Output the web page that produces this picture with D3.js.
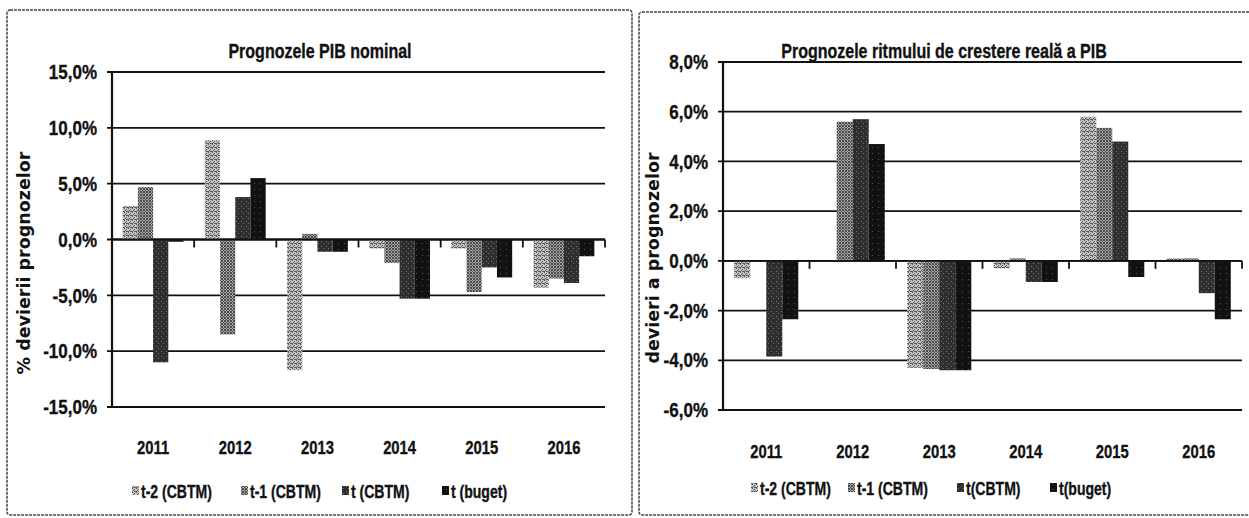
<!DOCTYPE html>
<html>
<head>
<meta charset="utf-8">
<script src="https://cdn.jsdelivr.net/npm/d3@7/dist/d3.min.js"></script>
<style>
  body { margin: 0; background: #fff; }
  svg { display: block; }
  .num { font-family: "Liberation Sans", Arial, sans-serif; font-weight: bold; fill: #111; stroke: #111; stroke-width: 0.35px; }
  .ytitle { font-family: "DejaVu Sans", Verdana, sans-serif; font-weight: bold; fill: #111; }
</style>
</head>
<body>
<svg id="chart" width="1249" height="518"></svg>
<script>
// categories and series
var years = ["2011", "2012", "2013", "2014", "2015", "2016"]
var seriesLeft = ["t-2 (CBTM)", "t-1 (CBTM)", "t (CBTM)", "t (buget)"]
var seriesRight = ["t-2 (CBTM)", "t-1 (CBTM)", "t(CBTM)", "t(buget)"]

// Prognozele PIB nominal (% deviation)
var nomT2 = [3.0, 8.9, -11.7, -0.8, -0.8, -4.3]
var nomT1 = [4.7, -8.5, 0.5, -2.1, -4.7, -3.5]
var nomTC = [-11.0, 3.8, -1.1, -5.3, -2.5, -3.9]
var nomTB = [-0.2, 5.5, -1.1, -5.3, -3.4, -1.5]
var nomTicks = [-15, -10, -5, 0, 5, 10, 15]

// Prognozele ritmului de crestere reala a PIB
var realT2 = [-0.7, 0.0, -4.3, -0.3, 5.8, 0.1]
var realT1 = [0.0, 5.6, -4.35, 0.1, 5.35, 0.1]
var realTC = [-3.85, 5.7, -4.4, -0.85, 4.8, -1.3]
var realTB = [-2.35, 4.7, -4.4, -0.85, -0.65, -2.35]
var realTicks = [-6, -4, -2, 0, 2, 4, 6, 8]

var svg = d3.select("#chart")

// halftone-like fills for the four series
var defs = svg.append("defs")
function makePattern(id, size, bg, dots, dotColor) {
	var p = defs.append("pattern")
		.attr("id", id)
		.attr("patternUnits", "userSpaceOnUse")
		.attr("width", size)
		.attr("height", size)
	p.append("rect").attr("width", size).attr("height", size).attr("fill", bg)
	dots.forEach(function (d) {
		p.append("rect").attr("x", d[0]).attr("y", d[1]).attr("width", 1).attr("height", 1).attr("fill", dotColor)
	})
}
makePattern("p0", 4, "#c6c6c6", [[0, 0], [2, 1], [1, 2], [3, 3], [2, 3], [0, 3]], "#555")
makePattern("p1", 3, "#a8a8a8", [[0, 0], [2, 0], [1, 1], [0, 2], [2, 2]], "#4a4a4a")
makePattern("p2", 5, "#2e2e2e", [[1, 1], [3, 3]], "#777")
makePattern("p3", 6, "#121212", [[2, 3]], "#555")
var fills = ["url(#p0)", "url(#p1)", "url(#p2)", "url(#p3)"]

var fmt = function (d) { return d.toFixed(1).replace(".", ",") + "%" }

// horizontal squeeze imitates the condensed font of the original
function squeezed(x, y, sx) {
	return "translate(" + x + "," + y + ") scale(" + sx + ",1)"
}

function drawChart(cfg) {
	var g = svg.append("g")

	// chart frame
	g.append("rect")
		.attr("x", cfg.frame[0]).attr("y", cfg.frame[1])
		.attr("width", cfg.frame[2]).attr("height", cfg.frame[3])
		.attr("rx", 3)
		.attr("fill", "none")
		.attr("stroke", "#444")
		.attr("stroke-width", 1.5)
		.attr("stroke-dasharray", "3,1")

	var x0 = d3.scaleBand().domain(years).range(cfg.xRange)
	var x1 = d3.scaleBand().domain(cfg.series).range([0, x0.bandwidth()]).paddingOuter(0.7)
	var y = d3.scaleLinear().domain(cfg.yDomain).range(cfg.yRange)

	// gridlines with small outside ticks
	g.selectAll(".grid")
		.data(cfg.ticks)
		.enter()
		.append("line")
		.attr("x1", cfg.xRange[0] - 5)
		.attr("x2", cfg.xRange[1])
		.attr("y1", d => y(d))
		.attr("y2", d => y(d))
		.attr("stroke", "#111")
		.attr("stroke-width", 1.8)

	g.selectAll(".ylab")
		.data(cfg.ticks)
		.enter()
		.append("text")
		.attr("class", "num")
		.attr("transform", d => squeezed(cfg.xRange[0] - 15, y(d), 0.85))
		.attr("dy", "0.36em")
		.attr("text-anchor", "end")
		.style("font-size", "20px")
		.text(fmt)

	// bars
	var data = []
	years.forEach(function (yr, i) {
		cfg.values.forEach(function (vals, s) {
			data.push({ year: yr, s: s, v: vals[i] })
		})
	})
	g.selectAll(".bar")
		.data(data)
		.enter()
		.append("rect")
		.attr("x", d => x0(d.year) + x1(cfg.series[d.s]))
		.attr("width", x1.bandwidth())
		.attr("y", d => y(Math.max(0, d.v)))
		.attr("height", d => Math.abs(y(d.v) - y(0)))
		.attr("fill", d => fills[d.s])

	// category axis at zero, ticks between groups
	var bounds = years.map(d => x0(d)).concat([cfg.xRange[1]])
	g.append("line")
		.attr("x1", cfg.xRange[0]).attr("x2", cfg.xRange[1])
		.attr("y1", y(0)).attr("y2", y(0))
		.attr("stroke", "#111").attr("stroke-width", 1.8)
	g.selectAll(".xtick")
		.data(bounds)
		.enter()
		.append("line")
		.attr("x1", d => d).attr("x2", d => d)
		.attr("y1", y(0)).attr("y2", y(0) + 8)
		.attr("stroke", "#111").attr("stroke-width", 1.8)

	// value axis line
	g.append("line")
		.attr("x1", cfg.xRange[0]).attr("x2", cfg.xRange[0])
		.attr("y1", y(cfg.yDomain[1])).attr("y2", y(cfg.yDomain[0]))
		.attr("stroke", "#111").attr("stroke-width", 2.2)

	g.selectAll(".xlab")
		.data(years)
		.enter()
		.append("text")
		.attr("class", "num")
		.attr("transform", d => squeezed(x0(d) + x0.bandwidth() / 2, cfg.xLabelY, 0.78))
		.attr("text-anchor", "middle")
		.style("font-size", "19px")
		.text(d => d)

	// titles
	g.append("text")
		.attr("class", "num")
		.attr("transform", squeezed(cfg.titleX, 58, 0.8))
		.attr("text-anchor", "middle")
		.style("font-size", "20px")
		.text(cfg.title)

	g.append("text")
		.attr("class", "ytitle")
		.attr("transform", "translate(" + cfg.yTitle[0] + "," + cfg.yTitle[1] + ") rotate(-90)")
		.attr("text-anchor", "middle")
		.attr("dy", "0.35em")
		.style("font-size", "17.5px")
		.text(cfg.yTitleText)

	// legend
	var legend = g.append("g")
	legend.selectAll("rect")
		.data(cfg.series)
		.enter()
		.append("rect")
		.attr("x", (d, i) => cfg.legendX[i])
		.attr("y", cfg.legendY - 12)
		.attr("width", 7)
		.attr("height", 9)
		.attr("fill", (d, i) => fills[i])
	legend.selectAll("text")
		.data(cfg.series)
		.enter()
		.append("text")
		.attr("class", "num")
		.attr("transform", (d, i) => squeezed(cfg.legendX[i] + 9, cfg.legendY, 0.78))
		.style("font-size", "18px")
		.text(d => d)
}

drawChart({
	frame: [7, 10, 625, 505],
	xRange: [112, 605],
	yDomain: [-15, 15],
	yRange: [407, 72],
	ticks: nomTicks,
	series: seriesLeft,
	values: [nomT2, nomT1, nomTC, nomTB],
	xLabelY: 454,
	title: "Prognozele PIB nominal",
	titleX: 320,
	yTitle: [24, 263],
	yTitleText: "% devierii prognozelor",
	legendX: [132, 241, 342, 442],
	legendY: 498
})

drawChart({
	frame: [639, 12, 630, 503],
	xRange: [723, 1242],
	yDomain: [-6, 8],
	yRange: [410, 62],
	ticks: realTicks,
	series: seriesRight,
	values: [realT2, realT1, realTC, realTB],
	xLabelY: 458,
	title: "Prognozele ritmului de crestere reală a PIB",
	titleX: 944,
	yTitle: [653, 258],
	yTitleText: "devieri a prognozelor",
	legendX: [751, 848, 957, 1050],
	legendY: 495
})
</script>
</body>
</html>
